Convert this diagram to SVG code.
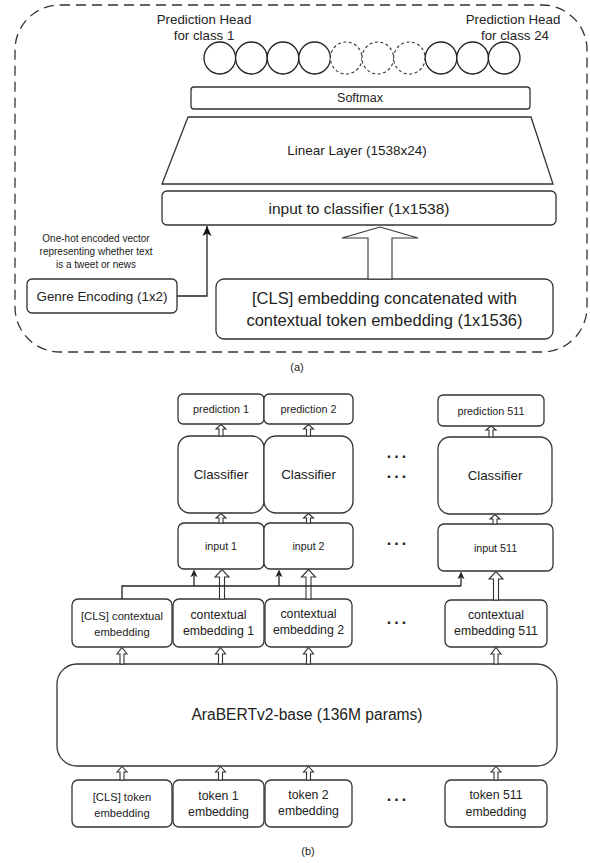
<svg xmlns="http://www.w3.org/2000/svg" width="590" height="863" viewBox="0 0 590 863">
<style>
text{font-family:"Liberation Sans",Arial,sans-serif;fill:#222;text-anchor:middle;dominant-baseline:central}
.box{fill:#fff;stroke:#333;stroke-width:1.3}
.c{fill:#fff;stroke:#222;stroke-width:1.3}
.cd{fill:#fff;stroke:#333;stroke-width:1.1;stroke-dasharray:3 2.5}
.ha{fill:#fff;stroke:#333;stroke-width:1.1;stroke-linejoin:miter}
.ln{fill:none;stroke:#222;stroke-width:1.3}
.dots{font-size:16px;font-weight:bold;letter-spacing:3px}
</style>
<defs>
<marker id="ah" markerWidth="11" markerHeight="10" refX="10" refY="5" orient="auto" markerUnits="userSpaceOnUse" viewBox="0 0 11 10">
<path d="M0,0.5 L10,5 L0,9.5 L2.5,5 Z" fill="#111"/>
</marker>
<marker id="ahs" markerWidth="8" markerHeight="8" refX="4" refY="0.5" markerUnits="userSpaceOnUse" viewBox="0 0 8 8">
<path d="M0.5,7.5 L4,0 L7.5,7.5 L4,6 Z" fill="#222"/>
</marker>
</defs>

<!-- Part (a) -->
<rect id="frame-a" x="15" y="5" width="572" height="347" rx="45" fill="none" stroke="#333" stroke-width="1.3" stroke-dasharray="10 6"/>

<g id="head-labels">
<text x="204" y="19" font-size="13.3">Prediction Head</text>
<text x="204" y="35" font-size="13.3">for class 1</text>
<text x="513" y="19" font-size="13.3">Prediction Head</text>
<text x="515" y="35" font-size="13.3">for class 24</text>
</g>

<g id="prediction-heads">
<ellipse class="c" cx="219.8" cy="58" rx="15.8" ry="16"/>
<ellipse class="c" cx="251.4" cy="58" rx="15.8" ry="16"/>
<ellipse class="c" cx="283" cy="58" rx="15.8" ry="16"/>
<ellipse class="c" cx="314.6" cy="58" rx="15.8" ry="16"/>
<ellipse class="cd" cx="346.2" cy="58" rx="15.8" ry="16"/>
<ellipse class="cd" cx="377.8" cy="58" rx="15.8" ry="16"/>
<ellipse class="cd" cx="409.4" cy="58" rx="15.8" ry="16"/>
<ellipse class="c" cx="441" cy="58" rx="15.8" ry="16"/>
<ellipse class="c" cx="472.6" cy="58" rx="15.8" ry="16"/>
<ellipse class="c" cx="504.2" cy="58" rx="15.8" ry="16"/>
</g>

<g id="softmax">
<rect class="box" x="191" y="87" width="339" height="22" rx="3"/>
<text x="360" y="98" font-size="12.5">Softmax</text>
</g>

<g id="linear-layer">
<polygon class="box" points="188,117 531,117 553,184 162,184"/>
<text x="357" y="150" font-size="13.5">Linear Layer (1538x24)</text>
</g>

<g id="input-classifier">
<rect class="box" x="162" y="191" width="394" height="34" rx="5"/>
<text x="359" y="208" font-size="15.5">input to classifier (1x1538)</text>
</g>

<g id="genre-note">
<text x="96" y="238" font-size="10">One-hot encoded vector</text>
<text x="96" y="251" font-size="10">representing whether text</text>
<text x="96" y="264" font-size="10">is a tweet or news</text>
</g>

<g id="genre">
<rect class="box" x="27" y="279" width="150" height="34" rx="5"/>
<text x="102" y="296" font-size="13.4">Genre Encoding (1x2)</text>
</g>

<g id="cls-concat">
<rect class="box" x="216" y="279" width="337" height="60" rx="8"/>
<text x="384.5" y="298" font-size="16.5">[CLS] embedding concatenated with</text>
<text x="384.5" y="320" font-size="16.5">contextual token embedding (1x1536)</text>
</g>

<g id="connectors-a">
<path class="ln" d="M177,296 H207 V226" marker-end="url(#ah)"/>
<polygon class="ha" points="368,279 368,238 342,238 380,227 418,238 392,238 392,279"/>
</g>

<text id="label-a" x="297" y="367" font-size="11">(a)</text>

<!-- Part (b) -->
<g id="pred1"><rect class="box" x="178" y="394" width="86" height="30" rx="5"/><text x="221" y="409" font-size="10.8">prediction 1</text></g>
<g id="pred2"><rect class="box" x="264" y="394" width="89" height="30" rx="5"/><text x="308.5" y="409" font-size="10.8">prediction 2</text></g>
<g id="pred511"><rect class="box" x="438" y="395" width="106" height="31" rx="5"/><text x="491" y="410.5" font-size="10.8">prediction 511</text></g>

<g id="cls1"><rect class="box" x="178" y="436" width="86" height="77" rx="12"/><text x="221" y="474.5" font-size="13.3">Classifier</text></g>
<g id="cls2"><rect class="box" x="264" y="436" width="89" height="77" rx="12"/><text x="308.5" y="474.5" font-size="13.3">Classifier</text></g>
<g id="cls511"><rect class="box" x="438" y="437" width="114" height="77" rx="12"/><text x="495" y="475.5" font-size="13.3">Classifier</text></g>

<g id="in1"><rect class="box" x="178" y="523" width="86" height="46" rx="6"/><text x="221" y="546" font-size="10.7">input 1</text></g>
<g id="in2"><rect class="box" x="264" y="523" width="89" height="46" rx="6"/><text x="308.5" y="546" font-size="10.7">input 2</text></g>
<g id="in511"><rect class="box" x="438" y="524" width="115" height="47" rx="6"/><text x="495.5" y="548" font-size="10.7">input 511</text></g>

<g id="ctxcls"><rect class="box" x="72" y="599" width="100" height="48" rx="6"/><text x="122" y="616" font-size="11.2">[CLS] contextual</text><text x="122" y="632" font-size="11.2">embedding</text></g>
<g id="ctx1"><rect class="box" x="173" y="599" width="91" height="48" rx="6"/><text x="218.5" y="615" font-size="12.3">contextual</text><text x="218.5" y="631" font-size="12.3">embedding 1</text></g>
<g id="ctx2"><rect class="box" x="265" y="599" width="87" height="48" rx="6"/><text x="308.5" y="614" font-size="12.3">contextual</text><text x="308.5" y="630" font-size="12.3">embedding 2</text></g>
<g id="ctx511"><rect class="box" x="445" y="600" width="102" height="47" rx="6"/><text x="496" y="615" font-size="12.3">contextual</text><text x="496" y="631" font-size="12.3">embedding 511</text></g>

<g id="arabert"><rect class="box" x="57" y="664" width="500" height="102" rx="20"/><text x="307" y="714" font-size="15.6">AraBERTv2-base (136M params)</text></g>

<g id="tokcls"><rect class="box" x="72" y="780" width="100" height="47" rx="6"/><text x="122" y="797" font-size="11.2">[CLS] token</text><text x="122" y="813" font-size="11.2">embedding</text></g>
<g id="tok1"><rect class="box" x="173" y="780" width="91" height="47" rx="6"/><text x="218.5" y="796" font-size="12.3">token 1</text><text x="218.5" y="812" font-size="12.3">embedding</text></g>
<g id="tok2"><rect class="box" x="265" y="780" width="87" height="47" rx="6"/><text x="308.5" y="795" font-size="12.3">token 2</text><text x="308.5" y="811" font-size="12.3">embedding</text></g>
<g id="tok511"><rect class="box" x="445" y="780" width="102" height="47" rx="6"/><text x="496" y="795" font-size="12.3">token 511</text><text x="496" y="812" font-size="12.3">embedding</text></g>

<g id="ellipses">
<text class="dots" x="398" y="452">...</text>
<text class="dots" x="398" y="472">...</text>
<text class="dots" x="398" y="539">...</text>
<text class="dots" x="398" y="618">...</text>
<text class="dots" x="398" y="795">...</text>
</g>

<g id="connectors-b">
<polygon class="ha" points="219,436 219,429 216,429 221,424.5 226,429 223,429 223,436"/>
<polygon class="ha" points="306.5,436 306.5,429 303.5,429 308.5,424.5 313.5,429 310.5,429 310.5,436"/>
<polygon class="ha" points="489,437 489,430 486,430 491,426 496,430 493,430 493,437"/>
<polygon class="ha" points="219,523 219,518 216,518 221,513.5 226,518 223,518 223,523"/>
<polygon class="ha" points="306.5,523 306.5,518 303.5,518 308.5,513.5 313.5,518 310.5,518 310.5,523"/>
<polygon class="ha" points="493,524 493,519 490,519 495,514.5 500,519 497,519 497,524"/>
<polygon class="ha" points="219.5,599 219.5,577 215,577 222,569.5 229,577 224.5,577 224.5,599"/>
<polygon class="ha" points="306,599 306,577 301.5,577 308.5,569.5 315.5,577 311,577 311,599"/>
<polygon class="ha" points="493.5,600 493.5,579 489,579 496,571.5 503,579 498.5,579 498.5,600"/>
<path class="ln" d="M122,599 V586 H461" stroke-width="1.1"/>
<path class="ln" d="M194,586 V576"  stroke-width="1.1"/>
<path class="ln" d="M279,586 V576" stroke-width="1.1"/>
<path class="ln" d="M461,586 V578" stroke-width="1.1"/>
<path d="M190.5,577 L194,569.5 L197.5,577 L194,575.5 Z" fill="#222"/>
<path d="M275.5,577 L279,569.5 L282.5,577 L279,575.5 Z" fill="#222"/>
<path d="M457.5,579 L461,571.5 L464.5,579 L461,577.5 Z" fill="#222"/>
<polygon class="ha" points="120,664 120,654 117,654 122,647.5 127,654 124,654 124,664"/>
<polygon class="ha" points="218.5,664 218.5,654 215.5,654 220.5,647.5 225.5,654 222.5,654 222.5,664"/>
<polygon class="ha" points="306.5,664 306.5,654 303.5,654 308.5,647.5 313.5,654 310.5,654 310.5,664"/>
<polygon class="ha" points="494,664 494,654 491,654 496,647.5 501,654 498,654 498,664"/>
<polygon class="ha" points="120,780 120,772 117,772 122,766.5 127,772 124,772 124,780"/>
<polygon class="ha" points="218.5,780 218.5,772 215.5,772 220.5,766.5 225.5,772 222.5,772 222.5,780"/>
<polygon class="ha" points="306.5,780 306.5,772 303.5,772 308.5,766.5 313.5,772 310.5,772 310.5,780"/>
<polygon class="ha" points="494,780 494,772 491,772 496,766.5 501,772 498,772 498,780"/>
</g>

<text id="label-b" x="308" y="851" font-size="11">(b)</text>
</svg>
